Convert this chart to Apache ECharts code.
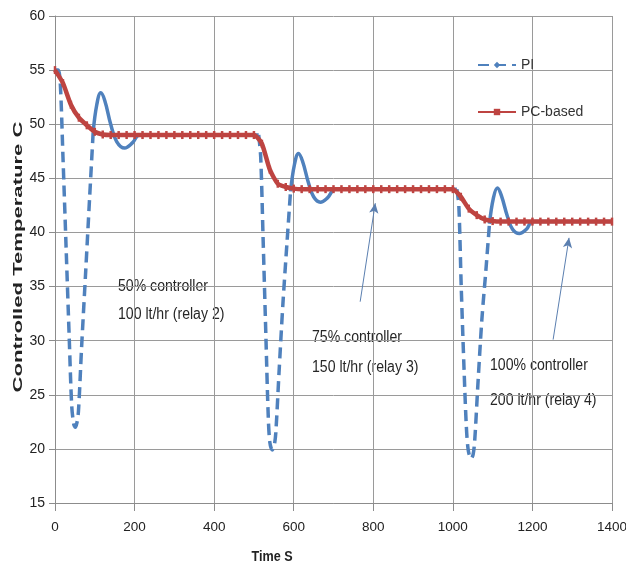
<!DOCTYPE html>
<html>
<head>
<meta charset="utf-8">
<script src="https://cdn.jsdelivr.net/npm/echarts@6.0.0/dist/echarts.min.js"></script>
<style>
  html, body { margin: 0; padding: 0; background: #fff; }
  #chart { width: 626px; height: 572px; }
</style>
</head>
<body>
<div id="chart"></div>
<script>
// time ticks / axis ranges
var xTicks = [0, 200, 400, 600, 800, 1000, 1200, 1400];
var yTicks = [15, 20, 25, 30, 35, 40, 45, 50, 55, 60];

// PC-based controller (red, with markers)
var pcTime = [0, 20, 40, 60, 80, 100, 120, 140, 160, 180, 200, 220, 240, 260, 280, 300,
  320, 340, 360, 380, 400, 420, 440, 460, 480, 500, 520, 540, 560, 580, 600, 620, 640,
  660, 680, 700, 720, 740, 760, 780, 800, 820, 840, 860, 880, 900, 920, 940, 960, 980,
  1000, 1020, 1040, 1060, 1080, 1100, 1120, 1140, 1160, 1180, 1200, 1220, 1240, 1260,
  1280, 1300, 1320, 1340, 1360, 1380, 1400];
var pcTemp = [55, 53.8, 51.8, 50.6, 49.9, 49.3, 49.05, 49, 49, 49, 49, 49, 49, 49, 49, 49,
  49, 49, 49, 49, 49, 49, 49, 49, 49, 49, 48.2, 45.8, 44.5, 44.2, 44.05, 44, 44,
  44, 44, 44, 44, 44, 44, 44, 44, 44, 44, 44, 44, 44, 44, 44, 44, 44,
  44, 43.3, 42.2, 41.6, 41.2, 41.05, 41, 41, 41, 41, 41, 41, 41, 41,
  41, 41, 41, 41, 41, 41, 41];

// PI controller: fast dips (drawn dashed) and settling parts (drawn solid)
var piDipTime = [0, 8, 13, 20, 28, 36, 42, 47, 51, 55, 59, 67, 77, 87, 96, null,
  512, 517, 523, 530, 536, 540, 546, 551, 555, 563, 573, 583, 592, null,
  1010, 1015, 1021, 1028, 1034, 1039, 1046, 1051, 1055, 1063, 1073, 1083, 1092];
var piDipTemp = [55, 55, 54, 47, 38.5, 30, 24, 22.3, 22, 22.4, 23.5, 29.5, 36.3, 43.2, 49.3, null,
  49, 47, 39.5, 30.5, 23, 20.6, 19.9, 20.3, 21.5, 27, 33.5, 39, 43.8, null,
  44, 42.5, 35, 27.5, 22, 19.8, 19.1, 19.5, 20.8, 26, 32, 36.5, 40.8];
var piSettleTime = [96, 105, 115, 125, 140, 155, 175, 195, 212, 240, 512, null,
  592, 602, 612, 622, 637, 650, 667, 685, 704, 730, 1010, null,
  1092, 1102, 1112, 1122, 1137, 1150, 1167, 1185, 1200, 1230, 1400];
var piSettleTemp = [49.3, 51.8, 52.9, 52.2, 50, 48.4, 47.8, 48.3, 49, 49, 49, null,
  43.8, 46.3, 47.3, 46.6, 44.6, 43.3, 42.8, 43.2, 44, 44, 44, null,
  40.8, 43.2, 44.1, 43.4, 41.5, 40.3, 39.9, 40.3, 41, 41, 41];

// annotation arrows [from, to] in data units
var arrow75 = [[767, 33.6], [805, 42.7]];
var arrow100 = [[1252, 30.1], [1292, 39.5]];

var FONT = '"Liberation Sans", Arial, sans-serif';
var BLUE = '#4f81bd';
var RED = '#be4441';

function zip(t, v) {
  var out = [];
  for (var i = 0; i < t.length; i++) {
    if (t[i] == null) out.push(['-', '-']);
    else out.push([t[i], v[i]]);
  }
  return out;
}

// annotation text, squeezed a bit to match the narrow font of the original
function note(x, y, text) {
  return {
    type: 'text', x: x, y: y, scaleX: 0.88,
    style: { text: text, font: '16px ' + FONT, fill: '#262626', verticalAlign: 'middle' }
  };
}

var chart = echarts.init(document.getElementById('chart'));

var option = {
  backgroundColor: '#fff',
  animation: false,
  grid: { left: 55, right: 14, top: 16, bottom: 69, outerBoundsMode: 'none', containLabel: false },
  legend: {
    data: ['PI', 'PC-based'],
    orient: 'vertical',
    left: 472,
    top: 53,
    itemGap: 33,
    itemWidth: 38,
    itemHeight: 8,
    textStyle: { fontFamily: FONT, fontSize: 14, color: '#333' }
  },
  xAxis: {
    type: 'value',
    min: xTicks[0],
    max: xTicks[xTicks.length - 1],
    interval: 200,
    axisLine: { lineStyle: { color: '#8c8c8c' } },
    axisTick: { show: true, length: 8, lineStyle: { color: '#8c8c8c' } },
    axisLabel: {
      margin: 17, fontFamily: FONT, fontSize: 13.5, color: '#222',
      formatter: function (v) { return String(v); }
    },
    splitLine: { show: true, lineStyle: { color: '#9a9a9a', width: 1 } }
  },
  yAxis: {
    type: 'value',
    min: yTicks[0],
    max: yTicks[yTicks.length - 1],
    interval: 5,
    axisLine: { show: true, lineStyle: { color: '#8c8c8c' } },
    axisTick: { show: true, length: 6, lineStyle: { color: '#8c8c8c' } },
    axisLabel: { margin: 10, fontFamily: FONT, fontSize: 14, color: '#222' },
    splitLine: { show: true, lineStyle: { color: '#9a9a9a', width: 1 } }
  },
  series: [
    {
      name: 'PI',
      type: 'line',
      data: zip(piDipTime, piDipTemp),
      smooth: 0.3,
      symbol: 'diamond',
      showSymbol: false,
      itemStyle: { color: BLUE },
      lineStyle: { color: BLUE, width: 3.5, type: [11, 6] },
      z: 2
    },
    {
      name: 'PI',
      type: 'line',
      data: zip(piSettleTime, piSettleTemp),
      smooth: 0.4,
      symbol: 'none',
      itemStyle: { color: BLUE },
      lineStyle: { color: BLUE, width: 3.5 },
      z: 2
    },
    {
      name: 'PC-based',
      type: 'line',
      data: zip(pcTime, pcTemp),
      smooth: 0.2,
      symbol: 'rect',
      symbolSize: [2.5, 8],
      showSymbol: true,
      itemStyle: { color: RED },
      lineStyle: { color: RED, width: 4.5 },
      z: 3
    },
    {
      type: 'line',
      data: [],
      silent: true,
      markLine: {
        silent: true,
        symbol: ['none', 'arrow'],
        symbolSize: [7, 10],
        label: { show: false },
        lineStyle: { color: '#5b7fb0', width: 1, type: 'solid' },
        data: [
          [{ coord: arrow75[0] }, { coord: arrow75[1] }],
          [{ coord: arrow100[0] }, { coord: arrow100[1] }]
        ]
      }
    }
  ],
  graphic: [
    note(118, 287, '50% controller'),
    note(118, 315, '100 lt/hr (relay 2)'),
    note(312, 338, '75% controller'),
    note(312, 368, '150 lt/hr (relay 3)'),
    note(490, 366, '100% controller'),
    note(490, 401, '200 lt/hr (relay 4)'),
    {
      type: 'text', x: 272, y: 557, scaleX: 0.9,
      style: { text: 'Time S', font: 'bold 14px ' + FONT, fill: '#222', align: 'center', verticalAlign: 'middle' }
    },
    {
      type: 'text', x: 18, y: 257, rotation: Math.PI / 2, scaleX: 1.7,
      style: { text: 'Controlled Temperature C', font: 'bold 13px ' + FONT, fill: '#222', align: 'center', verticalAlign: 'middle' }
    }
  ]
};

chart.setOption(option);
</script>
</body>
</html>
